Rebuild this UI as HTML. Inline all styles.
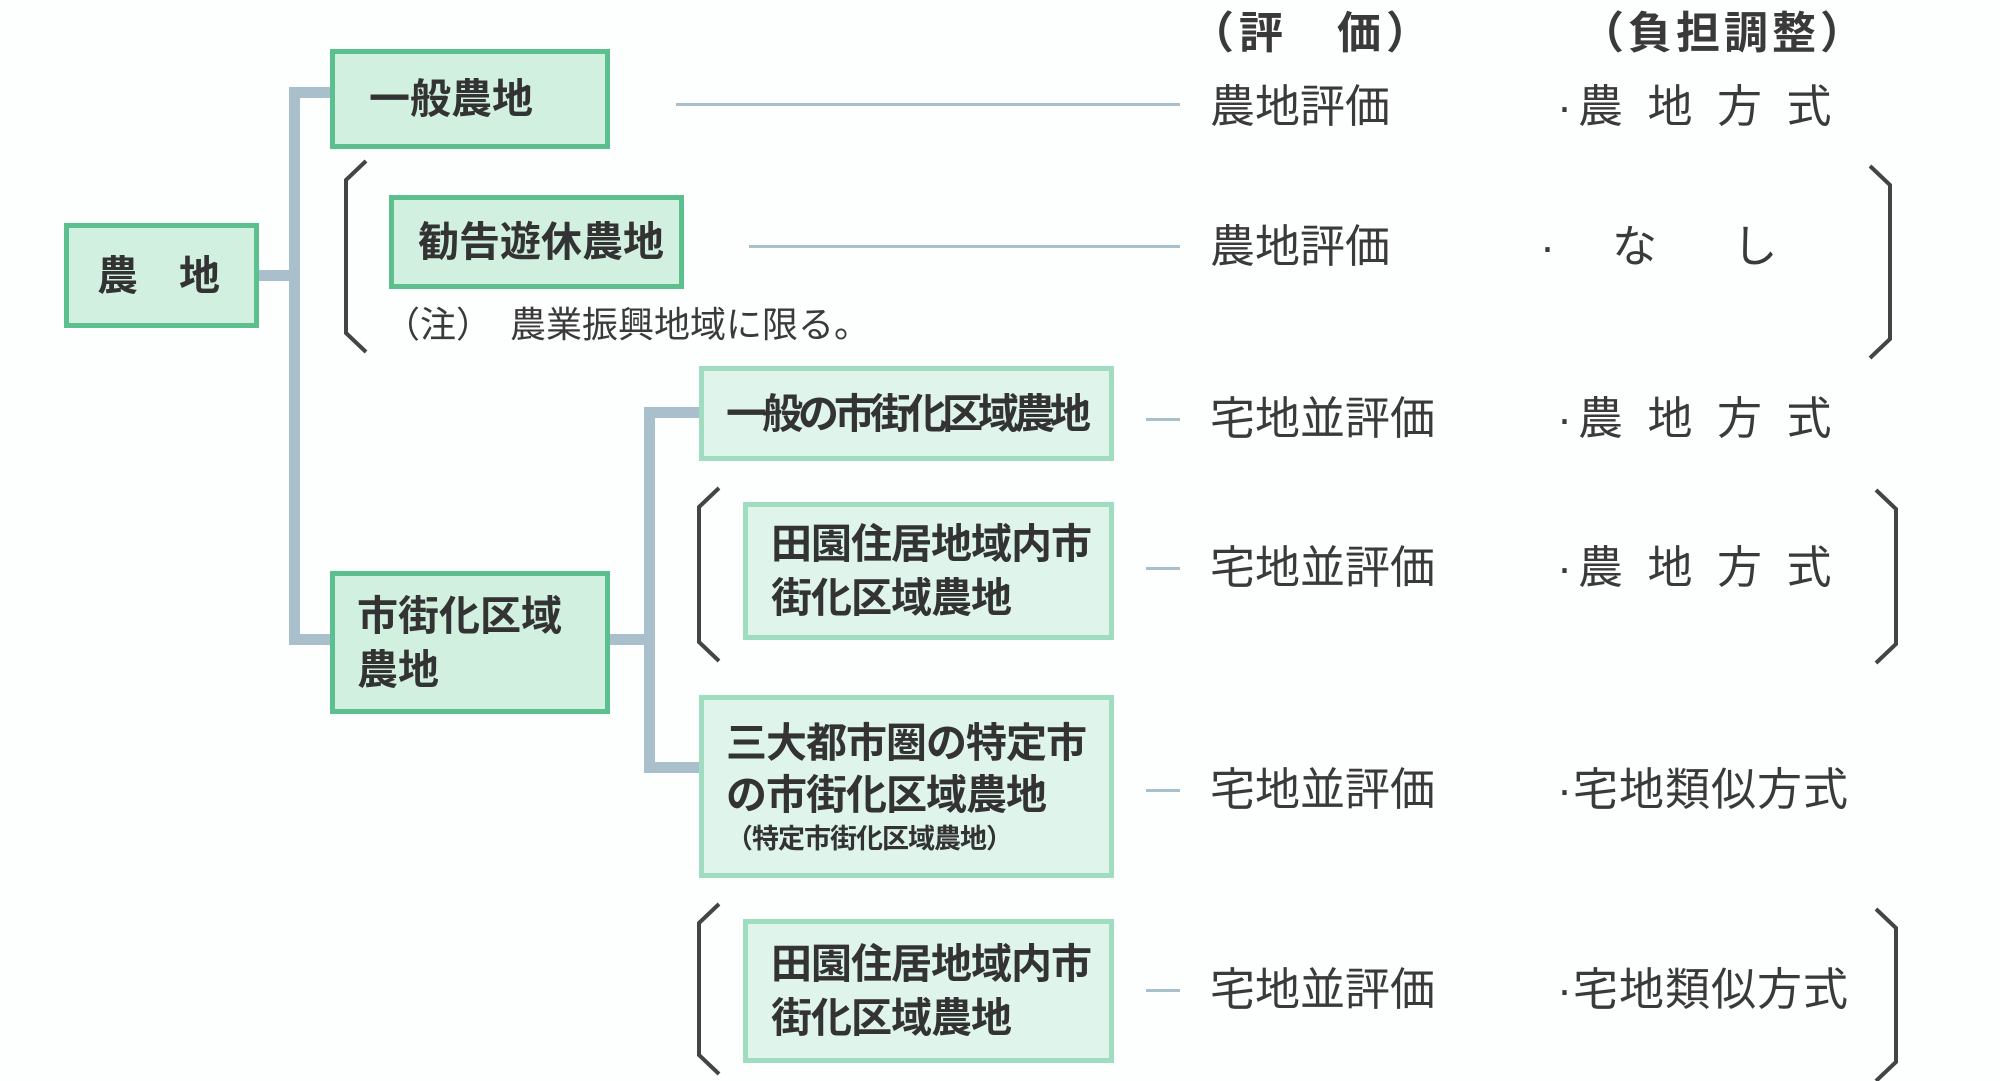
<!DOCTYPE html>
<html><head><meta charset="utf-8"><style>
body{margin:0;width:2000px;height:1081px;background:#fdfefe;position:relative;overflow:hidden;font-family:"Liberation Sans","Noto Sans CJK JP",sans-serif;color:#3a3a3a}
.b{position:absolute;box-sizing:border-box;background:#dff5ec;border:5px solid #9fdcc0;font-weight:bold;color:#333;font-size:41px;line-height:54px;padding-left:26px;display:flex;flex-direction:column;justify-content:center;white-space:nowrap}
.g{border-color:#5cbf8e;background:#d2f0e0}
.c{position:absolute;background:#a9bfcc}
.t{position:absolute;font-size:45px;white-space:nowrap;line-height:1;color:#3a3a3a}
.ln{position:absolute;height:3px;background:#a9bfcc}
svg{position:absolute;left:0;top:0}
</style></head><body>
<div class="c" style="left:289px;top:87px;width:11px;height:558px"></div>
<div class="c" style="left:289px;top:87px;width:42px;height:11px"></div>
<div class="c" style="left:259px;top:270px;width:35px;height:11px"></div>
<div class="c" style="left:289px;top:634px;width:42px;height:11px"></div>
<div class="c" style="left:610px;top:634px;width:44px;height:11px"></div>
<div class="c" style="left:644px;top:407px;width:11px;height:366px"></div>
<div class="c" style="left:644px;top:407px;width:56px;height:11px"></div>
<div class="c" style="left:644px;top:762px;width:56px;height:11px"></div>

<div class="b g" style="left:64px;top:223px;width:195px;height:105px;padding-left:28px">農　地</div>
<div class="b g" style="left:330px;top:49px;width:280px;height:100px;padding-left:34px">一般農地</div>
<div class="b g" style="left:389px;top:195px;width:295px;height:94px;padding-left:24px">勧告遊休農地</div>
<div class="t" style="left:384px;top:307px;font-size:36px">（注）　農業振興地域に限る。</div>
<div class="b g" style="left:330px;top:571px;width:280px;height:143px;padding-left:22px">市街化区域<br>農地</div>
<div class="b" style="left:699px;top:366px;width:415px;height:95px;padding-left:22px;letter-spacing:-5px">一般の市街化区域農地</div>
<div class="b" style="left:743px;top:502px;width:371px;height:138px;padding-left:23px;letter-spacing:-1px">田園住居地域内市<br>街化区域農地</div>
<div class="b" style="left:699px;top:695px;width:415px;height:183px;padding-left:22px;line-height:52px;letter-spacing:-1px">三大都市圏の特定市<br>の市街化区域農地<span style="font-size:27px;line-height:36px;letter-spacing:-1px">（特定市街化区域農地）</span></div>
<div class="b" style="left:743px;top:919px;width:371px;height:144px;padding-left:23px;letter-spacing:-1px">田園住居地域内市<br>街化区域農地</div>

<div class="ln" style="left:676px;top:103px;width:504px"></div>
<div class="ln" style="left:749px;top:245px;width:431px"></div>
<div class="ln" style="left:1146px;top:418px;width:34px"></div>
<div class="ln" style="left:1146px;top:567px;width:34px"></div>
<div class="ln" style="left:1146px;top:789px;width:34px"></div>
<div class="ln" style="left:1146px;top:989px;width:34px"></div>

<div class="t" style="left:1190px;top:12px;font-weight:bold;font-size:44px;letter-spacing:5px">（評　価）</div>
<div class="t" style="left:1580px;top:12px;font-weight:bold;font-size:44px;letter-spacing:4px">（負担調整）</div>
<div class="t" style="left:1210px;top:84px">農地評価</div>
<div class="t" style="left:1210px;top:224px">農地評価</div>
<div class="t" style="left:1210px;top:396px">宅地並評価</div>
<div class="t" style="left:1210px;top:545px">宅地並評価</div>
<div class="t" style="left:1210px;top:767px">宅地並評価</div>
<div class="t" style="left:1210px;top:967px">宅地並評価</div>
<div class="t" style="left:1557px;top:84px;letter-spacing:6px">·農 地 方 式</div>
<div class="t" style="left:1540px;top:224px;letter-spacing:6px">·　な　 し</div>
<div class="t" style="left:1557px;top:396px;letter-spacing:6px">·農 地 方 式</div>
<div class="t" style="left:1557px;top:545px;letter-spacing:6px">·農 地 方 式</div>
<div class="t" style="left:1557px;top:767px;letter-spacing:1px">·宅地類似方式</div>
<div class="t" style="left:1557px;top:967px;letter-spacing:1px">·宅地類似方式</div>

<svg width="2000" height="1081" fill="none" stroke="#444" stroke-width="4">
<path d="M366 161 L346 180 L346 333 L366 352"/>
<path d="M719 488 L699 507 L699 642 L719 661"/>
<path d="M719 904 L699 923 L699 1055 L719 1074"/>
<path d="M1870 166 L1890 185 L1890 339 L1870 358"/>
<path d="M1876 490 L1896 509 L1896 644 L1876 663"/>
<path d="M1876 909 L1896 928 L1896 1062 L1876 1081"/>
</svg>
</body></html>
